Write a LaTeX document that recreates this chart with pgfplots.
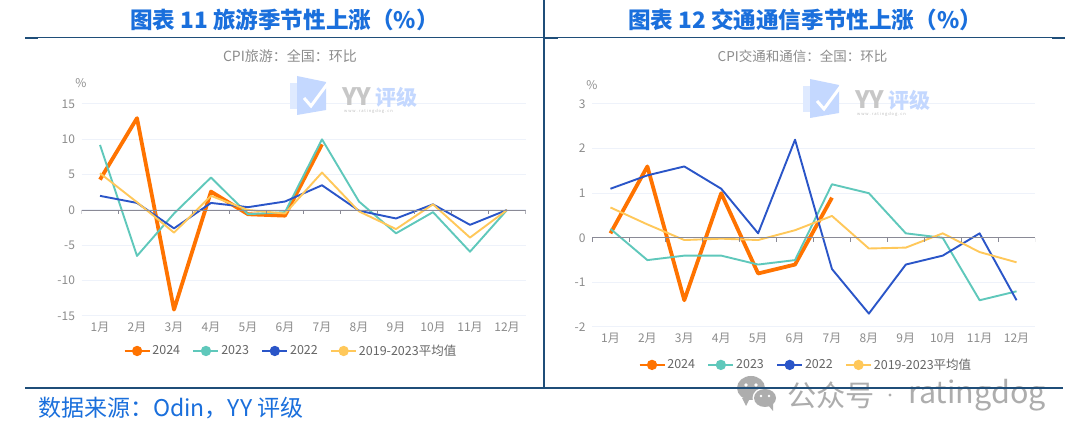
\documentclass[border=0pt]{standalone}
\usepackage{fontspec}
\setmainfont{Noto Sans CJK SC}
\usepackage{pgfplots}
\pgfplotsset{compat=1.18}
\definecolor{cOrange}{HTML}{FF7300}
\definecolor{cTeal}{HTML}{5FC8BB}
\definecolor{cBlue}{HTML}{2A55C8}
\definecolor{cYellow}{HTML}{FFC85A}
\definecolor{cTitle}{HTML}{1A6FDC}
\definecolor{cRule}{HTML}{1F4E79}
\definecolor{cGrid}{HTML}{EEF2FA}
\definecolor{cTick}{HTML}{8C8C8C}
\definecolor{cLegend}{HTML}{666666}
\definecolor{cZero}{HTML}{8A8A96}
\definecolor{cLogo}{HTML}{C4D8FF}

\pgfplotstableread{
m y2024 y2023 y2022 yavg
1 4.3 9.2 2 5.2
2 13 -6.5 1 1.1
3 -14.1 -0.5 -2.6 -3.2
4 2.6 4.6 1 2
5 -0.6 -0.6 0.4 0
6 -0.8 -0.3 1.2 -0.5
7 9.3 10 3.5 5.3
8 nan 1.2 -0.1 -0.2
9 nan -3.3 -1.2 -2.7
10 nan -0.3 0.8 0.8
11 nan -5.9 -2.1 -3.9
12 nan 0 0 0
}\tabA
\pgfplotstableread{
m y2024 y2023 y2022 yavg
1 0.1 0.2 1.1 0.68
2 1.6 -0.5 1.4 0.3
3 -1.4 -0.4 1.6 -0.05
4 1 -0.4 1.1 -0.02
5 -0.8 -0.6 0.1 -0.05
6 -0.6 -0.5 2.2 0.17
7 0.9 1.2 -0.7 0.49
8 nan 1 -1.7 -0.24
9 nan 0.1 -0.6 -0.22
10 nan 0 -0.4 0.1
11 nan -1.4 0.1 -0.32
12 nan -1.2 -1.4 -0.55
}\tabB

\pgfplotsset{
  cpi/.style={
    scale only axis, anchor=south west,
    xmin=0.5, xmax=12.5,
    axis line style={draw=none},
    xtick={1,...,12},
    xticklabels={1月,2月,3月,4月,5月,6月,7月,8月,9月,10月,11月,12月},
    major tick length=0pt,
    ymajorgrids=true,
    grid style={cGrid,line width=1pt},
    tick label style={font=\fontsize{12}{12}\selectfont,text=cTick},
    /pgf/number format/assume math mode=true,
    xticklabel style={yshift=-3pt},
    yticklabel style={xshift=-3pt},
    legend columns=4,
    legend cell align=left,
    legend style={draw=none,fill=none,font=\fontsize{12.5}{13}\selectfont,text=cLegend,
      /tikz/every even column/.append style={column sep=10.5pt}},
    legend image code/.code={
      \draw[##1,line width=1.6pt] (0,0) -- (25pt,0);
      \fill[##1,draw=none] (12.5pt,0) circle (5.2pt);
    },
    no marks,
    unbounded coords=jump,
    line join=round,
  },
  s24/.style={cOrange,line width=3.8pt},
  s23/.style={cTeal,line width=1.9pt},
  s22/.style={cBlue,line width=1.9pt},
  sav/.style={cYellow,line width=1.9pt},
}

% watermark in the plot area, x and y of the logo's left middle
\newcommand{\yylogo}[2]{
  \begin{scope}[shift={(#1pt,#2pt)}]
    \fill[cLogo!55] (0,-13pt) rectangle (14pt,13pt);
    \fill[cLogo] (7pt,20pt) -- (36pt,14pt) -- (36pt,-14pt) -- (7pt,-19pt) -- cycle;
    \draw[white,line width=3pt] (14pt,-2pt) -- (21pt,-10pt) -- (38pt,13pt);
    \node[anchor=west,inner sep=0pt,font=\bfseries\fontsize{24}{24}\selectfont,text=black!22] at (52pt,-1pt) {YY};
    \node[anchor=west,inner sep=0pt,font=\bfseries\fontsize{21}{21}\selectfont,text=cLogo] at (85pt,-1pt) {评级};
    \node[anchor=west,inner sep=0pt,font=\fontsize{4}{4}\selectfont,text=black!25] at (54pt,-15pt) {w w w . r a t i n g d o g . c n};
  \end{scope}
}

\begin{document}
\begin{tikzpicture}[x=1pt,y=1pt]
\useasboundingbox (0,0) rectangle (1080,436);
\fill[white] (0,0) rectangle (1080,436);

% left chart
\begin{axis}[cpi, at={(81.5pt,120pt)}, width=444pt, height=212pt,
  ymin=-15, ymax=15, ytick={-15,-10,...,15},
  legend style={at={(0.472,-0.165)},anchor=center}]
\addplot[s24] table[x=m,y=y2024] {\tabA}; \addlegendentry{2024}
\addplot[s23] table[x=m,y=y2023] {\tabA}; \addlegendentry{2023}
\addplot[s22] table[x=m,y=y2022] {\tabA}; \addlegendentry{2022}
\addplot[sav] table[x=m,y=yavg] {\tabA}; \addlegendentry{2019-2023平均值}
\draw[cZero,line width=0.9pt] (axis cs:0.5,0) -- (axis cs:12.5,0);
\pgfplotsinvokeforeach{0.5,1.5,2.5,3.5,4.5,5.5,6.5,7.5,8.5,9.5,10.5,11.5,12.5}{
  \draw[cZero,line width=0.7pt] (axis cs:#1,0) -- ([yshift=-4pt]axis cs:#1,0);
}
\end{axis}

% right chart
\begin{axis}[cpi, at={(592pt,109pt)}, width=443pt, height=223pt,
  ymin=-2, ymax=3, ytick={-2,-1,0,1,2,3},
  legend style={at={(0.483,-0.17)},anchor=center}]
\addplot[s24] table[x=m,y=y2024] {\tabB}; \addlegendentry{2024}
\addplot[s23] table[x=m,y=y2023] {\tabB}; \addlegendentry{2023}
\addplot[s22] table[x=m,y=y2022] {\tabB}; \addlegendentry{2022}
\addplot[sav] table[x=m,y=yavg] {\tabB}; \addlegendentry{2019-2023平均值}
\draw[cZero,line width=0.9pt] (axis cs:0.5,0) -- (axis cs:12.5,0);
\pgfplotsinvokeforeach{0.5,1.5,2.5,3.5,4.5,5.5,6.5,7.5,8.5,9.5,10.5,11.5,12.5}{
  \draw[cZero,line width=0.7pt] (axis cs:#1,0) -- ([yshift=-4pt]axis cs:#1,0);
}
\end{axis}

\yylogo{290}{340}
\yylogo{803}{337}

% wechat mark, under the rule
\fill[black!32] (751,48) ellipse (14 and 12);
\fill[black!32] (742,38) -- (746,30) -- (750,38) -- cycle;
\fill[white] (765,38) ellipse (12.5 and 10.5);
\fill[black!32] (765,38) ellipse (11 and 9);
\fill[black!32] (768,31) -- (773,25) -- (773,33) -- cycle;
\fill[white] (746,51) circle (1.8) (756,51) circle (1.8) (761,40) circle (1.4) (769,40) circle (1.4);
\node[anchor=west,inner sep=0pt,font=\fontsize{29.2}{30}\selectfont,text=black!32] at (787,41) {公众号};
\fill[black!32] (890,41) circle (1.6);
\node[anchor=west,inner sep=0pt,font=\fontsize{30.5}{31}\selectfont,text=black!32] at (908,41) {ratingdog};

% rules
\draw[cRule,line width=1pt] (25,398) -- (1065,398);
\draw[cRule,line width=2pt] (25,398) -- (38,398) (544,398) -- (558,398) (1052,398) -- (1065,398);
\draw[cRule,line width=1.2pt] (544,436) -- (544,48);
\draw[cRule,line width=2pt] (25,48) -- (1063,48);

% titles and subtitles
\node[font=\bfseries\fontsize{22.6}{23}\selectfont,text=cTitle] at (284.5,416) {图表 11 旅游季节性上涨（\%）};
\node[font=\bfseries\fontsize{22.6}{23}\selectfont,text=cTitle] at (805,416) {图表 12 交通通信季节性上涨（\%）};
\node[font=\fontsize{14}{14}\selectfont,text=cTick] at (290,380) {CPI旅游：全国：环比};
\node[font=\fontsize{13.5}{14}\selectfont,text=cTick] at (802.5,380) {CPI交通和通信：全国：环比};
\node[font=\fontsize{12}{12}\selectfont,text=cTick] at (81,353) {\%};
\node[font=\fontsize{12}{12}\selectfont,text=cTick] at (592,351) {\%};

% source
\node[anchor=west,inner sep=0pt,font=\fontsize{23}{24}\selectfont,text=cTitle] at (38,28) {数据来源：Odin，YY 评级};
\end{tikzpicture}
\end{document}
